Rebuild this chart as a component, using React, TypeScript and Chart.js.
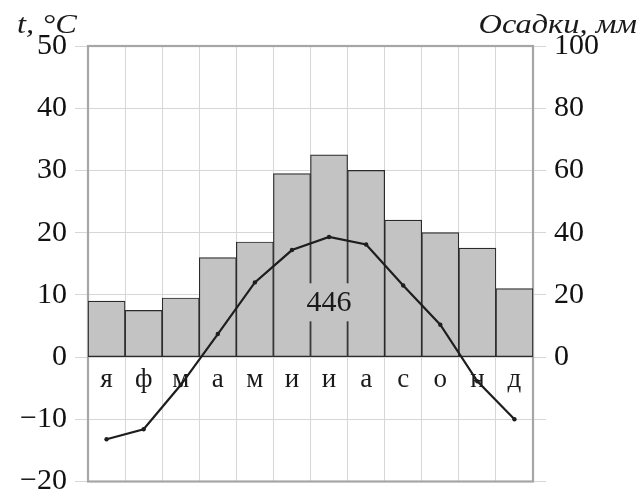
import React, { useEffect, useRef } from 'react';
import { Chart, registerables } from 'chart.js';

Chart.register(...registerables);

const months = ['я', 'ф', 'м', 'а', 'м', 'и', 'и', 'а', 'с', 'о', 'н', 'д'];
const precipitation = [18, 15, 19, 32, 37, 59, 65, 60, 44, 40, 35, 22];
const temperature = [-13.2, -11.6, -4.5, 3.7, 12, 17.2, 19.3, 18.1, 11.5, 5.2, -3.9, -10];
const tempRange = [-20, 50];
const precipRange = [-40, 100];
const annualTotal = '446';
const totalPosition = [6, 8.8]; // month index, temperature value
const tempTitle = 't, °C';
const precipTitle = 'Осадки, мм';

const SERIF = '"Liberation Serif", "Times New Roman", serif';

const decor = {
  id: 'decor',
  beforeDatasetsDraw(chart: any) {
    const { ctx, chartArea, scales } = chart;
    const x = scales.x;
    const y = scales.y;
    ctx.save();
    // frame
    ctx.strokeStyle = '#a6a6a6';
    ctx.lineWidth = 2.2;
    ctx.strokeRect(chartArea.left, chartArea.top, chartArea.right - chartArea.left, chartArea.bottom - chartArea.top);
    // month labels
    ctx.font = `27px ${SERIF}`;
    ctx.fillStyle = '#1a1a1a';
    ctx.textAlign = 'center';
    ctx.textBaseline = 'alphabetic';
    const base = y.getPixelForValue(0) + 30;
    months.forEach((m, i) => ctx.fillText(m, x.getPixelForValue(i), base));
    ctx.restore();
  },
  afterDatasetsDraw(chart: any) {
    const { ctx, scales } = chart;
    const cx = scales.x.getPixelForValue(totalPosition[0]);
    const cy = scales.y.getPixelForValue(totalPosition[1]);
    ctx.save();
    ctx.fillStyle = '#c3c3c3';
    ctx.fillRect(cx - 29, cy - 19, 58, 38);
    ctx.font = `30px ${SERIF}`;
    ctx.fillStyle = '#1a1a1a';
    ctx.textAlign = 'center';
    ctx.textBaseline = 'middle';
    ctx.fillText(annualTotal, cx, cy + 1);
    ctx.restore();
  },
  afterDraw(chart: any) {
    const { ctx } = chart;
    ctx.save();
    ctx.font = `italic 27px ${SERIF}`;
    ctx.fillStyle = '#1a1a1a';
    ctx.textBaseline = 'alphabetic';
    ctx.translate(17, 33);
    ctx.scale(1.2, 1);
    ctx.textAlign = 'left';
    ctx.fillText(tempTitle, 0, 0);
    ctx.restore();
    ctx.save();
    ctx.font = `italic 27px ${SERIF}`;
    ctx.fillStyle = '#1a1a1a';
    ctx.textBaseline = 'alphabetic';
    ctx.translate(637, 33);
    ctx.scale(1.2, 1);
    ctx.textAlign = 'right';
    ctx.fillText(precipTitle, 0, 0);
    ctx.restore();
  },
};

export default function App() {
  const ref = useRef<HTMLCanvasElement>(null);
  useEffect(() => {
    const chart = new Chart(ref.current as HTMLCanvasElement, {
      type: 'bar',
      data: {
        labels: months,
        datasets: [
          {
            type: 'line',
            data: temperature,
            yAxisID: 'y',
            borderColor: '#1e1e1e',
            borderWidth: 2.2,
            pointRadius: 2.2,
            pointBackgroundColor: '#1e1e1e',
            pointBorderWidth: 0,
            tension: 0,
            order: 0,
          } as any,
          {
            type: 'bar',
            data: precipitation,
            yAxisID: 'y1',
            backgroundColor: '#c3c3c3',
            borderColor: '#2b2b2b',
            borderWidth: 1.2,
            borderSkipped: false,
            barPercentage: 1,
            categoryPercentage: 1,
            order: 1,
          } as any,
        ],
      },
      options: {
        responsive: false,
        animation: false,
        events: [],
        layout: { autoPadding: false, padding: { top: 46, bottom: 11.5, left: 0, right: 0 } } as any,
        plugins: { legend: { display: false }, tooltip: { enabled: false } },
        scales: {
          x: {
            display: true,
            offset: true,
            grid: { display: true, color: '#d6d6d6', drawTicks: false, offset: true, lineWidth: 1 },
            ticks: { display: false },
            border: { display: false },
            afterFit: (s: any) => {
              s.height = 0;
              s.paddingLeft = 0;
              s.paddingRight = 0;
            },
          },
          y: {
            position: 'left',
            min: tempRange[0],
            max: tempRange[1],
            ticks: {
              stepSize: 10,
              padding: 8,
              color: '#111',
              font: { family: SERIF, size: 30 },
              callback: (v: any) => (Number(v) < 0 ? '\u2212' + Math.abs(Number(v)) : String(v)),
            },
            grid: { color: '#d6d6d6', tickLength: 13, lineWidth: 1 },
            border: { display: false },
            afterFit: (s: any) => {
              s.width = 88;
              s.paddingTop = 0;
              s.paddingBottom = 0;
            },
          },
          y1: {
            position: 'right',
            min: precipRange[0],
            max: precipRange[1],
            ticks: {
              stepSize: 20,
              padding: 8,
              color: '#111',
              font: { family: SERIF, size: 30 },
              callback: (v: any) => (Number(v) < 0 ? '' : String(v)),
            },
            grid: { color: '#d6d6d6', tickLength: 13, drawOnChartArea: false, lineWidth: 1 },
            border: { display: false },
            afterFit: (s: any) => {
              s.width = 107;
              s.paddingTop = 0;
              s.paddingBottom = 0;
            },
          },
        },
      } as any,
      plugins: [decor],
    });
    return () => chart.destroy();
  }, []);
  return (
    <div style={{ position: 'absolute', left: 0, top: 0, width: 640, height: 493, background: '#fff' }}>
      <canvas ref={ref} width={640} height={493} style={{ display: 'block', width: 640, height: 493 }} />
    </div>
  );
}
